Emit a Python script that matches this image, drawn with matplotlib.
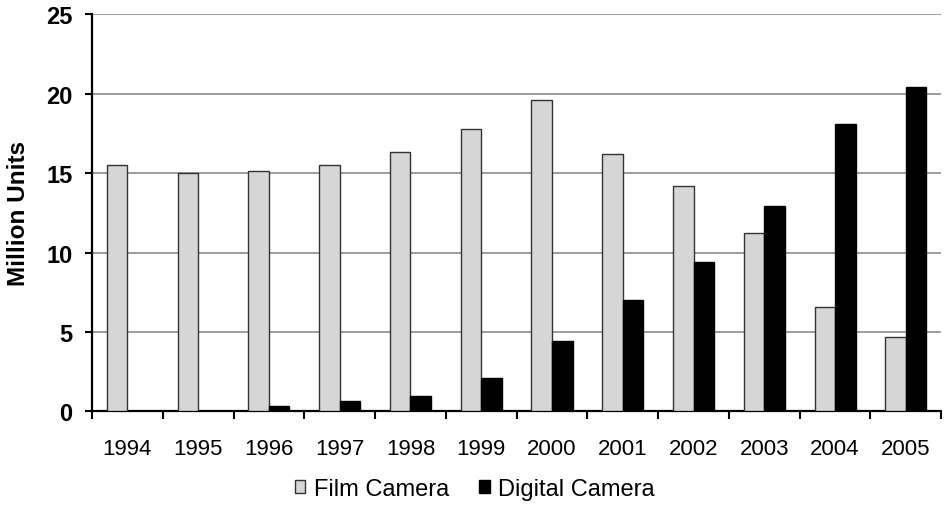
import matplotlib
matplotlib.use("Agg")
import matplotlib.pyplot as plt
import numpy as np
from matplotlib.ticker import FixedLocator

plt.rcParams['font.family'] = ['Liberation Sans', 'DejaVu Sans']

years = ["1994", "1995", "1996", "1997", "1998", "1999",
         "2000", "2001", "2002", "2003", "2004", "2005"]
film = [15.5, 15.0, 15.1, 15.5, 16.3, 17.8, 19.6, 16.2, 14.2, 11.2, 6.6, 4.7]
digital = [0.0, 0.0, 0.35, 0.65, 1.0, 2.1, 4.4, 7.0, 9.4, 12.9, 18.1, 20.4]
yticks = [0, 5, 10, 15, 20, 25]

fig = plt.figure(figsize=(9.44, 5.06), dpi=100)
ax = fig.add_axes([0.0975, 0.185, 0.8995, 0.785])

x = np.arange(len(years))
w = 0.29
ax.bar(x - w / 2, film, width=w, color="#d6d6d6", edgecolor="#333333",
       linewidth=1.0, label="Film Camera", zorder=3)
ax.bar(x + w / 2, digital, width=w, color="black", edgecolor="black",
       linewidth=1.0, label="Digital Camera", zorder=3)

ax.set_xlim(-0.5, len(years) - 0.5)
ax.set_ylim(0, 25)
ax.set_yticks(yticks)
ax.set_yticklabels([str(v) for v in yticks], fontsize=17, fontweight="bold")
ax.set_xticks(x)
ax.set_xticklabels(years, fontsize=16)
ax.xaxis.set_minor_locator(FixedLocator(np.arange(-0.5, len(years), 1.0)))
ax.tick_params(axis="x", which="major", length=0, pad=19)
ax.tick_params(axis="x", which="minor", length=6, width=1.5, direction="out")
ax.tick_params(axis="y", length=5, width=1.5, direction="out", pad=9)

ax.yaxis.grid(True, color="#8c8c8c", linewidth=1.2, zorder=0)
ax.set_axisbelow(True)
for side in ("top", "right"):
    ax.spines[side].set_visible(False)
for side in ("left", "bottom"):
    ax.spines[side].set_linewidth(1.6)
    ax.spines[side].set_color("black")

ax.set_ylabel("Million Units", fontsize=17.5, fontweight="bold", labelpad=12)

leg = fig.legend(loc="center", bbox_to_anchor=(0.503, 0.032), ncol=2,
                 frameon=False, fontsize=17, handlelength=0.45,
                 handleheight=0.45, handletextpad=0.35, columnspacing=1.3)

fig.savefig("out.png", dpi=100)
